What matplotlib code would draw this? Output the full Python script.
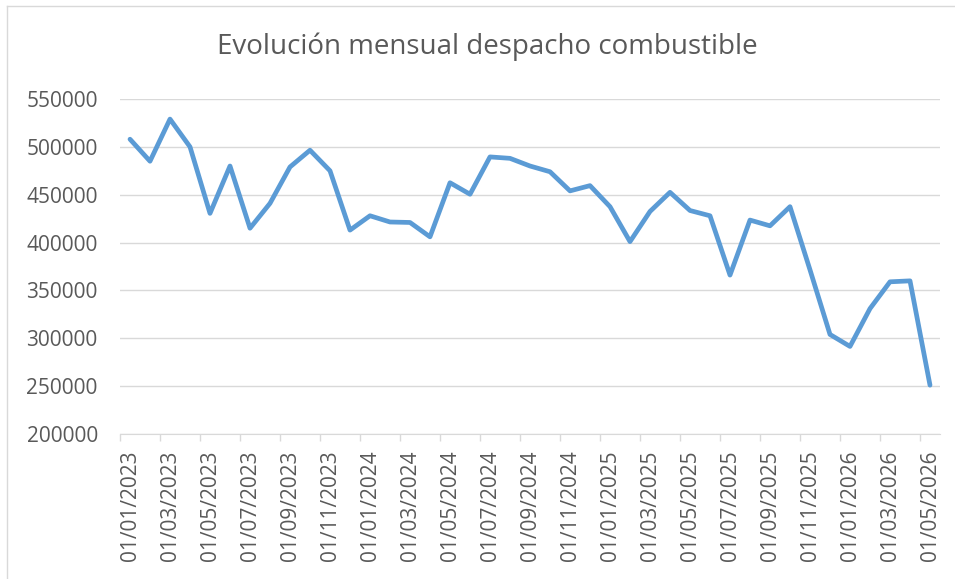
import numpy as np
import matplotlib.pyplot as plt
from matplotlib.lines import Line2D

# ---------- data ----------
months = [f"01/{m:02d}/{y}" for y in (2023, 2024, 2025, 2026) for m in range(1, 13)][:41]
despacho = [
    508000, 485000, 529000, 500000, 430500, 480000, 415000, 441000, 479000, 496500,
    475000, 413000, 428000, 421500, 421000, 406000, 462500, 450500, 489500, 488000,
    480000, 474000, 454000, 459500, 437500, 401000, 432500, 452500, 433500, 428000,
    366000, 423500, 417500, 437500, 371500, 304000, 291500, 331000, 359000, 360000,
    251000,
]
y_ticks = [200000, 250000, 300000, 350000, 400000, 450000, 500000, 550000]

text_col = "#595959"
grid_col = "#D9D9D9"
line_col = "#5B9BD5"

plt.rcParams["font.family"] = ["Open Sans", "DejaVu Sans"]

fig = plt.figure(figsize=(9.55, 5.79), dpi=100)
ax = fig.add_axes([120 / 955, 1 - 434 / 579, 820 / 955, 335 / 579])

x = np.arange(len(despacho))
ax.plot(x, despacho, color=line_col, lw=3.4, solid_joinstyle="round", solid_capstyle="round")

ax.set_xlim(-0.5, len(despacho) - 0.5)
ax.set_ylim(y_ticks[0], y_ticks[-1])
ax.set_yticks(y_ticks)
ax.set_yticklabels([str(v) for v in y_ticks])
ax.set_xticks(x[::2])
ax.set_xticklabels(months[::2], rotation=90)
ax.set_xticks(np.arange(-0.5, len(despacho) - 1, 2), minor=True)

ax.tick_params(axis="both", which="major", labelsize=15, colors=text_col, length=0)
ax.tick_params(axis="x", which="major", pad=12)
ax.tick_params(axis="y", which="major", pad=16)
ax.tick_params(axis="x", which="minor", length=5, color=grid_col, width=1)

ax.grid(axis="y", color=grid_col, lw=1)
ax.set_axisbelow(True)
for s in ["top", "right", "left"]:
    ax.spines[s].set_visible(False)
ax.spines["bottom"].set_color(grid_col)

fig.text(0.5 * (218 + 757) / 955, 1 - 47 / 579, "Evolución mensual despacho combustible",
         ha="center", va="center", fontsize=20, color=text_col)

# chart area border (left and top edges are visible in the reference)
fig.add_artist(Line2D([7 / 955, 7 / 955], [0, 1 - 6 / 579], transform=fig.transFigure, color=grid_col, lw=1))
fig.add_artist(Line2D([7 / 955, 1], [1 - 6 / 579, 1 - 6 / 579], transform=fig.transFigure, color=grid_col, lw=1))

fig.savefig("out.png", dpi=100)
